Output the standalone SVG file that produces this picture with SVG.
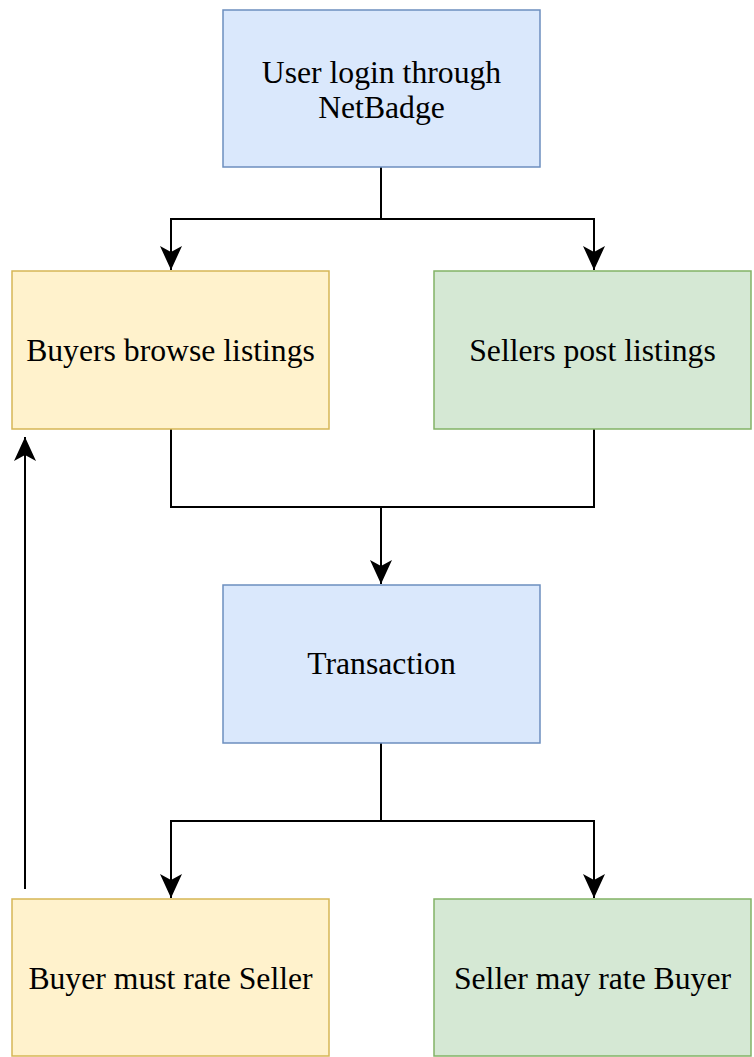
<svg xmlns="http://www.w3.org/2000/svg" width="754" height="1057" viewBox="0 0 754 1057">
<style>
  .blue { fill: #dae8fc; stroke: #6c8ebf; stroke-width: 1.5; }
  .yellow { fill: #fff2cc; stroke: #d6b656; stroke-width: 1.5; }
  .green { fill: #d5e8d4; stroke: #82b366; stroke-width: 1.5; }
  .lbl { font-family: "Liberation Serif", "Times New Roman", serif; font-size: 31.7px; fill: #000; text-anchor: middle; }
  .edge { fill: none; stroke: #000; stroke-width: 2; }
</style>
<defs>
  <marker id="arrow" markerUnits="userSpaceOnUse" viewBox="0 0 24 24" refX="24" refY="12" markerWidth="24" markerHeight="24" orient="auto">
    <path d="M24,12 L0,1 L6,12 L0,23 Z" fill="#000"/>
  </marker>
</defs>
<rect width="754" height="1057" fill="#ffffff"/>
<g id="connectors">
  <path class="edge" d="M381,167 V219 H171 V270" marker-end="url(#arrow)"/>
  <path class="edge" d="M381,219 H594 V270" marker-end="url(#arrow)"/>
  <path class="edge" d="M171,429 V507 H381 V584" marker-end="url(#arrow)"/>
  <path class="edge" d="M594,429 V507 H381"/>
  <path class="edge" d="M381,743 V821 H171 V898" marker-end="url(#arrow)"/>
  <path class="edge" d="M381,821 H594 V898" marker-end="url(#arrow)"/>
  <path class="edge" d="M25,889 V437" marker-end="url(#arrow)"/>
</g>
<g id="node-login">
  <rect class="blue" x="223" y="10" width="317" height="157"/>
  <text class="lbl" x="381.5" y="83">User login through</text>
  <text class="lbl" x="381.5" y="118">NetBadge</text>
</g>
<g id="node-buyers-browse">
  <rect class="yellow" x="12" y="271" width="317" height="158"/>
  <text class="lbl" x="170.5" y="361">Buyers browse listings</text>
</g>
<g id="node-sellers-post">
  <rect class="green" x="434" y="271" width="317" height="158"/>
  <text class="lbl" x="592.5" y="361">Sellers post listings</text>
</g>
<g id="node-transaction">
  <rect class="blue" x="223" y="585" width="317" height="158"/>
  <text class="lbl" x="381.5" y="674">Transaction</text>
</g>
<g id="node-buyer-rate">
  <rect class="yellow" x="12" y="899" width="317" height="157"/>
  <text class="lbl" x="170.5" y="989">Buyer must rate Seller</text>
</g>
<g id="node-seller-rate">
  <rect class="green" x="434" y="899" width="317" height="157"/>
  <text class="lbl" x="592.5" y="989">Seller may rate Buyer</text>
</g>
</svg>
